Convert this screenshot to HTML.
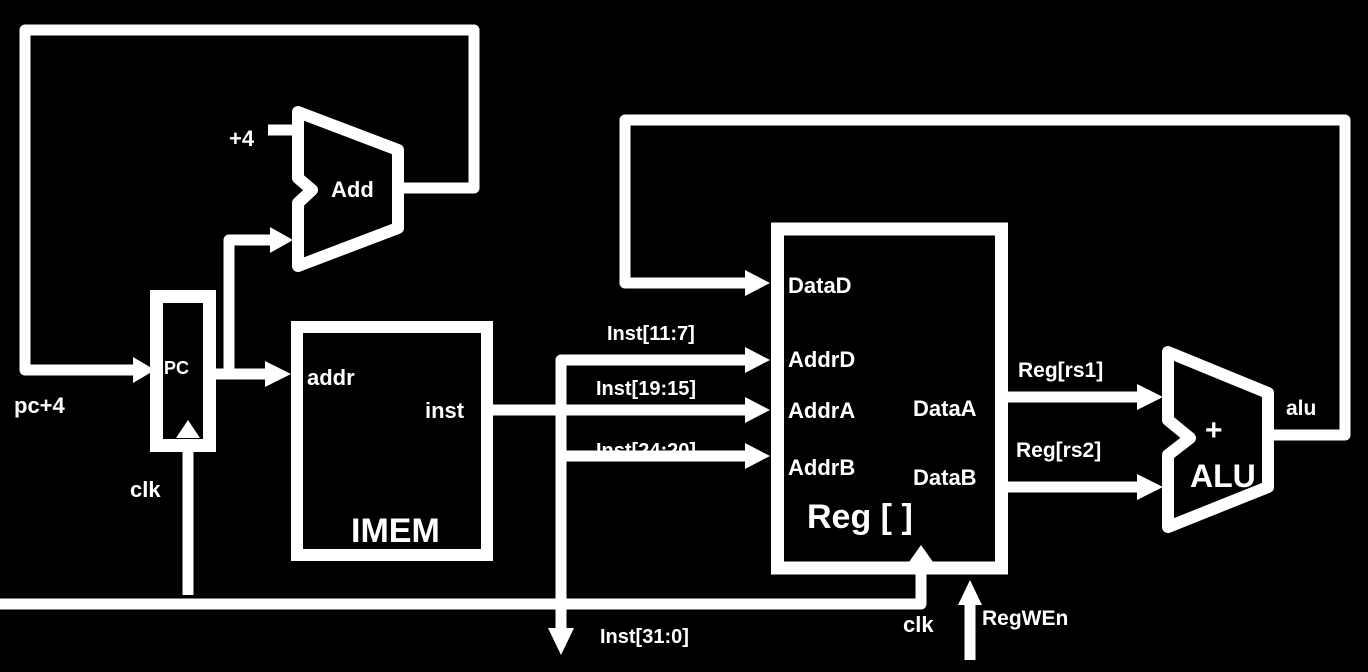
<!DOCTYPE html>
<html><head><meta charset="utf-8"><style>
html,body{margin:0;padding:0;background:#000;width:1368px;height:672px;overflow:hidden}
svg{display:block}
text{font-family:"Liberation Sans",sans-serif;fill:#fff;font-weight:bold}
</style></head><body>
<svg width="1368" height="672" viewBox="0 0 1368 672" xmlns="http://www.w3.org/2000/svg">
<g fill="none" stroke="#fff" stroke-width="11" stroke-linejoin="round">
<!-- feedback pc+4 -->
<polyline points="402,188 474,188 474,30 25,30 25,370 135,370"/>
<!-- PC box -->
<rect x="156.5" y="296.5" width="53" height="149" stroke-width="13" stroke-linejoin="miter"/>
<!-- PC out -->
<polyline points="211,374 270,374"/>
<polyline points="229,374 229,240 272,240"/>
<line x1="268" y1="130" x2="296" y2="130"/>
<!-- Add shape -->
<polygon points="298,112 398,150 398,228 298,266 298,203 312,190 298,178" stroke-width="12"/>
<!-- IMEM -->
<rect x="297" y="327" width="190" height="228" stroke-width="12" stroke-linejoin="miter"/>
<!-- inst -->
<line x1="492" y1="410" x2="750" y2="410"/>
<polyline points="746,360 561,360 561,630"/>
<line x1="561" y1="456" x2="750" y2="456"/>
<!-- Reg box -->
<rect x="777.5" y="229" width="224" height="339" stroke-width="13" stroke-linejoin="miter"/>
<!-- DataD feedback -->
<polyline points="1265,435 1345,435 1345,120 625,120 625,283 750,283"/>
<!-- Data outputs -->
<line x1="1005" y1="397" x2="1140" y2="397"/>
<line x1="1005" y1="487" x2="1140" y2="487"/>
<!-- ALU -->
<polygon points="1168,352 1268,393 1268,487 1168,527 1168,455 1190,438 1168,420" stroke-width="12"/>
<!-- clk -->
<line x1="0" y1="604" x2="921" y2="604" stroke-linecap="round"/>
<line x1="921" y1="604" x2="921" y2="560"/>
<line x1="188" y1="595" x2="188" y2="440"/>
<line x1="970" y1="660" x2="970" y2="600"/>
</g>
<g fill="#fff">
<polygon points="133,357 155,370 133,383"/>
<polygon points="265,361 291,374 265,387"/>
<polygon points="270,227 293,240 270,253"/>
<polygon points="745,347 770,360 745,373"/>
<polygon points="745,397 770,410 745,423"/>
<polygon points="745,443 770,456 745,469"/>
<polygon points="745,270 770,283 745,296"/>
<polygon points="1137,384 1163,397 1137,410"/>
<polygon points="1137,474 1163,487 1137,500"/>
<polygon points="548,628 574,628 561,655"/>
<polygon points="958,605 982,605 970,580"/>
<polygon points="176,438 200,438 188,420"/>
<polygon points="909,562 933,562 921,545"/>
</g>
<text x="229" y="146" font-size="22">+4</text>
<text x="331" y="197" font-size="22">Add</text>
<text x="164" y="374" font-size="18">PC</text>
<text x="14" y="413" font-size="22">pc+4</text>
<text x="130" y="497" font-size="22">clk</text>
<text x="307" y="385" font-size="22">addr</text>
<text x="425" y="418" font-size="22">inst</text>
<text x="351" y="542" font-size="34">IMEM</text>
<text x="607" y="340" font-size="20">Inst[11:7]</text>
<text x="596" y="395" font-size="20">Inst[19:15]</text>
<text x="596" y="457" font-size="20">Inst[24:20]</text>
<text x="600" y="643" font-size="20">Inst[31:0]</text>
<text x="788" y="293" font-size="22">DataD</text>
<text x="788" y="367" font-size="22">AddrD</text>
<text x="788" y="418" font-size="22">AddrA</text>
<text x="788" y="475" font-size="22">AddrB</text>
<text x="913" y="416" font-size="22">DataA</text>
<text x="913" y="485" font-size="22">DataB</text>
<text x="807" y="528" font-size="34">Reg [ ]</text>
<text x="1018" y="377" font-size="21">Reg[rs1]</text>
<text x="1016" y="457" font-size="21">Reg[rs2]</text>
<text x="1286" y="415" font-size="21">alu</text>
<text x="1205" y="440" font-size="30">+</text>
<text x="1190" y="487" font-size="32">ALU</text>
<text x="903" y="632" font-size="22">clk</text>
<text x="982" y="625" font-size="21">RegWEn</text>
</svg>
</body></html>
